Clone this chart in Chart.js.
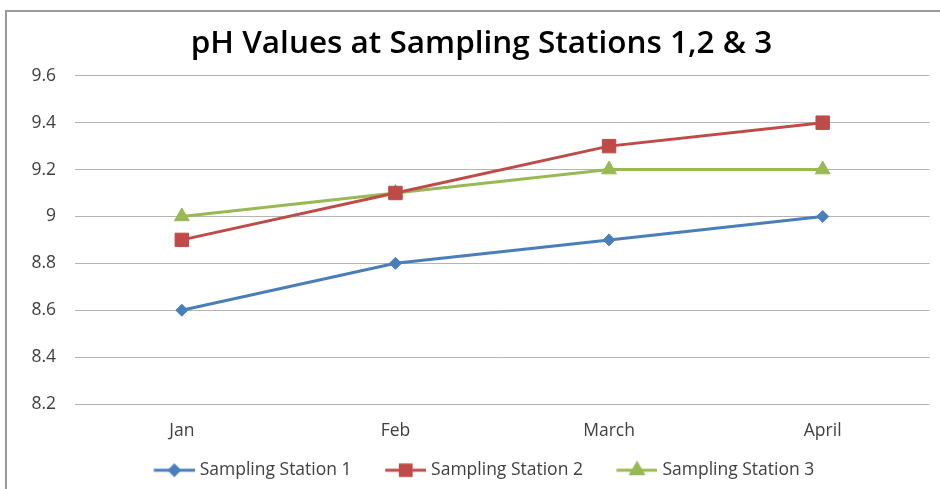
<!DOCTYPE html>
<html>
<head>
<meta charset="utf-8">
<script src="https://cdn.jsdelivr.net/npm/chart.js@4/dist/chart.umd.min.js"></script>
<style>
  html, body { margin: 0; padding: 0; background: #fff; }
  #wrap { position: relative; width: 940px; height: 489px; overflow: hidden; }
  #frame { position: absolute; left: 5px; top: 10px; width: 940px; height: 490px;
           border-top: 2px solid #9a9a9a; border-left: 2px solid #9a9a9a; box-sizing: border-box; pointer-events: none; }
  canvas { position: absolute; left: 0; top: 0; }
</style>
</head>
<body>
<div id="wrap">
  <canvas id="c" width="940" height="489"></canvas>
  <div id="frame"></div>
</div>
<script>
const categories = ['Jan', 'Feb', 'March', 'April'];
const station1 = [8.6, 8.8, 8.9, 9.0];
const station2 = [8.9, 9.1, 9.3, 9.4];
const station3 = [9.0, 9.1, 9.2, 9.2];
const seriesNames = ['Sampling Station 1', 'Sampling Station 2', 'Sampling Station 3'];
const yTickLabels = ['8.2', '8.4', '8.6', '8.8', '9', '9.2', '9.4', '9.6'];
const chartTitle = 'pH Values at Sampling Stations 1,2 & 3';

const BLUE = '#4a7ebb', RED = '#be4b48', GREEN = '#98b954';
const FONT = '"Open Sans", Lato, sans-serif';
const LEG_PAD = 21, LEG_GAP = 16.25, LEG_LINE = 41, LEG_SHIFT = -3.75;
const TXT = 17.5;

function legendIcon(color, style, radius) {
  const cv = document.createElement('canvas');
  cv.width = LEG_GAP + LEG_LINE; cv.height = 20;
  const ctx = cv.getContext('2d');
  ctx.strokeStyle = color; ctx.lineWidth = 3;
  ctx.beginPath(); ctx.moveTo(LEG_GAP, 10); ctx.lineTo(LEG_GAP + LEG_LINE, 10); ctx.stroke();
  Chart.helpers.drawPoint(ctx, {pointStyle: style, radius: radius, rotation: 0, borderWidth: 1}, LEG_GAP + LEG_LINE / 2, 10);
  ctx.fillStyle = color;
  ctx.fill();
  return cv;
}

const styles = [
  {color: BLUE, style: 'rectRot', r: 6},
  {color: RED, style: 'rect', r: 9.5},
  {color: GREEN, style: 'triangle', r: 8.5}
];
const seriesData = [station1, station2, station3];

const datasets = seriesData.map((d, i) => ({
  label: seriesNames[i],
  data: d,
  borderColor: styles[i].color,
  backgroundColor: styles[i].color,
  borderWidth: 3,
  pointStyle: styles[i].style,
  pointRadius: styles[i].r,
  pointHoverRadius: styles[i].r,
  pointBorderWidth: 1,
  tension: 0
}));

const legendShift = {
  id: 'legendShift',
  afterLayout(chart) {
    if (chart.legend) {
      chart.legend.left += LEG_SHIFT;
      chart.legend.right += LEG_SHIFT;
    }
  }
};

new Chart(document.getElementById('c'), {
  type: 'line',
  data: { labels: categories, datasets: datasets },
  plugins: [legendShift],
  options: {
    responsive: false,
    animation: false,
    devicePixelRatio: 1,
    layout: { padding: { left: 31, right: 8, top: 25, bottom: 0 } },
    plugins: {
      title: {
        display: true,
        text: chartTitle,
        color: '#000',
        font: { family: FONT, size: 31.5, weight: '600', lineHeight: 1.2 },
        padding: { top: 0, bottom: 13 }
      },
      legend: {
        position: 'bottom',
        labels: {
          usePointStyle: true,
          pointStyleWidth: LEG_GAP + LEG_LINE - 7.5,
          color: '#404040',
          font: { family: FONT, size: TXT },
          padding: LEG_PAD,
          generateLabels: (chart) => chart.data.datasets.map((ds, i) => ({
            text: ds.label,
            pointStyle: legendIcon(styles[i].color, styles[i].style, styles[i].r * 0.8),
            fillStyle: ds.borderColor,
            strokeStyle: ds.borderColor,
            lineWidth: 0,
            fontColor: '#404040',
            datasetIndex: i,
            hidden: false
          }))
        }
      },
      tooltip: { enabled: false }
    },
    scales: {
      x: {
        offset: true,
        grid: { display: false, drawTicks: false },
        border: { display: false },
        ticks: { color: '#404040', font: { family: FONT, size: TXT }, padding: 16.5 },
        afterFit: (s) => { s.height = 36.5; }
      },
      y: {
        min: 8.2,
        max: 9.6,
        grid: { color: '#b4b4b4', lineWidth: 1, drawTicks: false },
        border: { display: false },
        ticks: {
          stepSize: 0.2,
          color: '#404040',
          font: { family: FONT, size: TXT },
          padding: 19,
          callback: (v) => {
            const s = String(Number(v.toFixed(1)));
            return yTickLabels.includes(s) ? s : '';
          }
        },
        afterFit: (s) => { s.width = 44; }
      }
    }
  }
});
</script>
</body>
</html>
